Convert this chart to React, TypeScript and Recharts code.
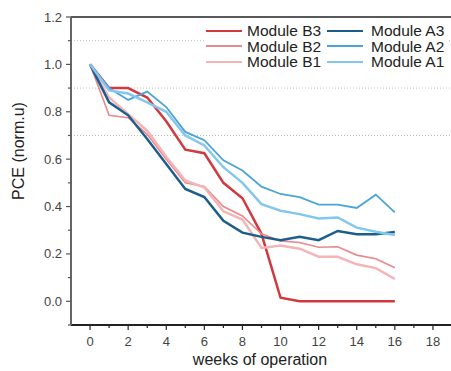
import React from "react";
import { LineChart, Line, XAxis, YAxis, ReferenceLine } from "recharts";

const weeks = [0, 1, 2, 3, 4, 5, 6, 7, 8, 9, 10, 11, 12, 13, 14, 15, 16];
const moduleB3 = [1.0, 0.9, 0.9, 0.86, 0.76, 0.64, 0.625, 0.5, 0.435, 0.285, 0.015, 0.0, 0.0, 0.0, 0.0, 0.0, 0.0];
const moduleB2 = [1.0, 0.785, 0.775, 0.705, 0.6, 0.5, 0.485, 0.4, 0.36, 0.285, 0.255, 0.248, 0.228, 0.23, 0.195, 0.18, 0.142];
const moduleB1 = [1.0, 0.86, 0.79, 0.72, 0.61, 0.51, 0.48, 0.38, 0.345, 0.225, 0.236, 0.222, 0.188, 0.188, 0.156, 0.14, 0.094];
const moduleA3 = [1.0, 0.84, 0.785, 0.685, 0.58, 0.474, 0.44, 0.34, 0.29, 0.272, 0.258, 0.272, 0.258, 0.297, 0.283, 0.283, 0.293];
const moduleA2 = [1.0, 0.9, 0.85, 0.885, 0.82, 0.715, 0.68, 0.595, 0.552, 0.484, 0.453, 0.44, 0.408, 0.408, 0.394, 0.45, 0.375];
const moduleA1 = [1.0, 0.89, 0.877, 0.84, 0.8, 0.7, 0.658, 0.566, 0.5, 0.41, 0.382, 0.368, 0.35, 0.354, 0.311, 0.294, 0.28];

const xTicks = [0, 1, 2, 3, 4, 5, 6, 7, 8, 9, 10, 11, 12, 13, 14, 15, 16, 17, 18];
const yTicks = [-0.1, 0.0, 0.1, 0.2, 0.3, 0.4, 0.5, 0.6, 0.7, 0.8, 0.9, 1.0, 1.1, 1.2];
const gridLevels = [1.1, 0.9, 0.7];

const data = weeks.map((w, i) => ({
  week: w,
  b3: moduleB3[i],
  b2: moduleB2[i],
  b1: moduleB1[i],
  a3: moduleA3[i],
  a2: moduleA2[i],
  a1: moduleA1[i],
}));

const series = [
  { key: "b3", name: "Module B3", color: "#d03a3e", width: 2.5 },
  { key: "b2", name: "Module B2", color: "#e8898d", width: 1.6 },
  { key: "b1", name: "Module B1", color: "#f3b5b7", width: 2.5 },
  { key: "a3", name: "Module A3", color: "#1b5e8c", width: 2.5 },
  { key: "a2", name: "Module A2", color: "#4ba4d8", width: 1.8 },
  { key: "a1", name: "Module A1", color: "#83c7ee", width: 2.5 },
];

const FONT = "'Liberation Sans', Arial, sans-serif";

const YTick = (props: any) => {
  const { x, y, payload } = props;
  const v = Math.round(payload.value * 10);
  const major = v % 2 === 0 && v >= 0;
  return (
    <g>
      <line x1={x - (major ? 5 : 3)} x2={x} y1={y} y2={y} stroke="#555" strokeWidth={1.2} />
      {major && (
        <text x={x - 9} y={y} dy={4.5} textAnchor="end" fontSize={13} fill="#444" fontFamily={FONT}>
          {(payload.value as number).toFixed(1)}
        </text>
      )}
    </g>
  );
};

const XTick = (props: any) => {
  const { x, y, payload } = props;
  const major = payload.value % 2 === 0;
  return (
    <g>
      <line x1={x} x2={x} y1={y} y2={y + (major ? 5 : 3)} stroke="#222" strokeWidth={1.2} />
      {major && (
        <text x={x} y={y + 21} textAnchor="middle" fontSize={13} fill="#444" fontFamily={FONT}>
          {payload.value}
        </text>
      )}
    </g>
  );
};

const LegendBox = () => {
  const order = [
    [series[0], series[3]],
    [series[1], series[4]],
    [series[2], series[5]],
  ];
  return (
    <div
      style={{
        position: "absolute",
        left: 205,
        top: 18,
        background: "#fff",
        width: 244,
        height: 62,
        fontFamily: FONT,
        fontSize: 15.5,
        color: "#222",
        paddingTop: 5,
        boxSizing: "border-box",
      }}
    >
      {order.map((row, r) => (
        <div key={r} style={{ display: "flex", alignItems: "center", height: 15.5, lineHeight: "15.5px" }}>
          {row.map((s, c) => (
            <div key={s.key} style={{ display: "flex", alignItems: "center", width: c === 0 ? 121 : 123 }}>
              <div style={{ width: 36, height: s.width, background: s.color, marginLeft: 1 }} />
              <span style={{ marginLeft: c === 0 ? 5 : 8, whiteSpace: "nowrap" }}>{s.name}</span>
            </div>
          ))}
        </div>
      ))}
    </div>
  );
};

export default function App() {
  return (
    <div style={{ position: "absolute", left: 0, top: 0, width: 460, height: 371 }}>
      <LineChart width={460} height={371} data={data} margin={{ top: 17, right: 8, left: 0, bottom: 0 }}>
        <XAxis
          dataKey="week"
          type="number"
          domain={[-1, 19]}
          ticks={xTicks}
          interval={0}
          tick={<XTick />}
          tickSize={0}
          tickMargin={0}
          height={46}
          axisLine={{ stroke: "#222", strokeWidth: 2 }}
        />
        <YAxis
          type="number"
          domain={[-0.1, 1.2]}
          ticks={yTicks}
          interval={0}
          tick={<YTick />}
          tickSize={0}
          tickMargin={0}
          width={71}
          axisLine={{ stroke: "#666", strokeWidth: 2 }}
        />
        {gridLevels.map((g) => (
          <ReferenceLine key={g} y={g} stroke="#bbb" strokeDasharray="1 2" strokeWidth={1} />
        ))}
        <ReferenceLine y={1.2} stroke="#222" strokeWidth={1.5} />
        {series.map((s) => (
          <Line
            key={s.key}
            dataKey={s.key}
            name={s.name}
            stroke={s.color}
            strokeWidth={s.width}
            dot={false}
            isAnimationActive={false}
          />
        ))}
        <text
          x={20}
          y={151}
          transform="rotate(-90 20 151)"
          textAnchor="middle"
          dominantBaseline="middle"
          fontSize={16}
          fill="#222"
          fontFamily={FONT}
        >
          PCE (norm.u)
        </text>
        <text x={260} y={365} textAnchor="middle" fontSize={16} fill="#222" fontFamily={FONT}>
          weeks of operation
        </text>
      </LineChart>
      <LegendBox />
    </div>
  );
}
